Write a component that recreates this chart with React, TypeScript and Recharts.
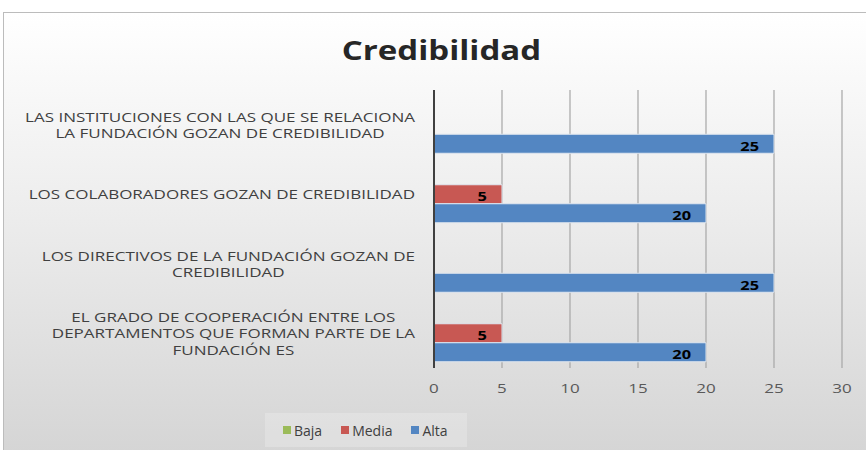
import React from "react";
import {
  Bar,
  BarChart,
  CartesianGrid,
  LabelList,
  XAxis,
  YAxis,
} from "recharts";

const categories = [
  "LAS INSTITUCIONES CON LAS QUE SE RELACIONA LA FUNDACIÓN GOZAN DE CREDIBILIDAD",
  "LOS COLABORADORES GOZAN DE CREDIBILIDAD",
  "LOS DIRECTIVOS DE LA FUNDACIÓN GOZAN DE CREDIBILIDAD",
  "EL GRADO DE COOPERACIÓN ENTRE LOS DEPARTAMENTOS QUE FORMAN PARTE DE LA FUNDACIÓN ES",
];

// how the reference wraps each category label
const categoryLines = [
  ["LAS INSTITUCIONES CON LAS QUE SE RELACIONA", "LA FUNDACIÓN GOZAN DE CREDIBILIDAD"],
  ["LOS COLABORADORES GOZAN DE CREDIBILIDAD"],
  ["LOS DIRECTIVOS DE LA FUNDACIÓN GOZAN DE", "CREDIBILIDAD"],
  ["EL GRADO DE COOPERACIÓN ENTRE LOS", "DEPARTAMENTOS QUE FORMAN PARTE DE LA", "FUNDACIÓN ES"],
];

const baja = [0, 0, 0, 0];
const media = [0, 5, 0, 5];
const alta = [25, 20, 25, 20];

const xTicks = [0, 5, 10, 15, 20, 25, 30];

const SERIES = [
  { key: "Baja", color: "#9BBB59" },
  { key: "Media", color: "#C85853" },
  { key: "Alta", color: "#5386C2" },
];

const data = categories.map((name, i) => ({
  name,
  Baja: baja[i],
  Media: media[i],
  Alta: alta[i],
}));

const FONT = "'Open Sans', sans-serif";
// the reference image is stretched sideways, so the text is widened to match
const STRETCH = 1.26;

let ctx: CanvasRenderingContext2D | null = null;
function textWidth(s: string, size: number, weight = 400) {
  if (!ctx) ctx = document.createElement("canvas").getContext("2d");
  if (!ctx) return s.length * size * 0.6;
  ctx.font = `${weight} ${size}px 'Open Sans'`;
  return ctx.measureText(s).width;
}

function WideText({
  x,
  y,
  text,
  size,
  weight = 400,
  fill,
  anchor = "middle",
}: {
  x: number;
  y: number;
  text: string;
  size: number;
  weight?: number;
  fill: string;
  anchor?: "start" | "middle" | "end";
}) {
  const w = textWidth(text, size, weight) * STRETCH;
  const left = anchor === "start" ? x : anchor === "end" ? x - w : x - w / 2;
  return (
    <text
      x={left}
      y={y}
      textLength={w}
      lengthAdjust="spacingAndGlyphs"
      fontSize={size}
      fontWeight={weight}
      fontFamily={FONT}
      fill={fill}
      dominantBaseline="central"
    >
      {text}
    </text>
  );
}

function CategoryTick(props: any) {
  const { y, payload } = props;
  const idx = categories.indexOf(payload.value);
  const lines = categoryLines[idx] ?? [payload.value];
  const right = 415;
  const size = 13.5;
  const maxW = Math.max(...lines.map((l) => textWidth(l, size))) * STRETCH;
  const cx = right - maxW / 2;
  const lh = 16.5;
  const startY = y - ((lines.length - 1) * lh) / 2;
  return (
    <g>
      {lines.map((l, i) => (
        <WideText key={i} x={cx} y={startY + i * lh} text={l} size={size} fill="#404040" />
      ))}
    </g>
  );
}

function NumberTick(props: any) {
  const { x, y, payload } = props;
  return <WideText x={x} y={y + 6} text={String(payload.value)} size={13.5} fill="#595959" />;
}

function ValueLabel(props: any) {
  const { x, y, width, height, value } = props;
  if (!value) return null;
  return (
    <WideText
      x={x + width - 15}
      y={y + height / 2 + 2}
      text={String(value)}
      size={13}
      weight={700}
      fill="#000"
      anchor="end"
    />
  );
}

export default function App() {
  return (
    <div
      style={{
        position: "absolute",
        left: 0,
        top: 0,
        width: 866,
        height: 450,
        overflow: "hidden",
        background: "#fff",
        fontFamily: FONT,
      }}
    >
      <div
        style={{
          position: "absolute",
          left: 3,
          top: 12,
          width: 880,
          height: 460,
          border: "1px solid #bcbcbc",
          background: "linear-gradient(180deg, #ffffff 0%, #ececec 45%, #d3d3d3 100%)",
        }}
      />
      <div
        style={{
          position: "absolute",
          left: 0,
          top: 30,
          width: 882,
          textAlign: "center",
          fontSize: 26,
          fontWeight: 700,
          color: "#262626",
          lineHeight: "40px",
        }}
      >
        <span style={{ display: "inline-block", transform: "scaleX(1.27)" }}>
          Credibilidad
        </span>
      </div>
      <BarChart
        width={866}
        height={450}
        data={data}
        layout="vertical"
        margin={{ top: 90, right: 24, bottom: 52, left: 0 }}
        barCategoryGap="9%"
        barGap={0}
        style={{ position: "absolute", left: 0, top: 0 }}
      >
        <CartesianGrid horizontal={false} stroke="#a6a6a6" strokeWidth={1.2} />
        <XAxis
          type="number"
          domain={[0, 30]}
          ticks={xTicks}
          axisLine={false}
          tickLine={false}
          tickMargin={8}
          height={30}
          tick={<NumberTick />}
        />
        <YAxis
          type="category"
          dataKey="name"
          width={434}
          axisLine={{ stroke: "#404040", strokeWidth: 2 }}
          tickLine={false}
          tick={<CategoryTick />}
          interval={0}
        />
        {SERIES.map((s) => (
          <Bar
            key={s.key}
            dataKey={s.key}
            fill={s.color}
            stroke="#dfe6ef"
            strokeWidth={1}
            isAnimationActive={false}
          >
            {s.key !== "Baja" && <LabelList dataKey={s.key} content={<ValueLabel />} />}
          </Bar>
        ))}
      </BarChart>
      <div
        style={{
          position: "absolute",
          left: 265,
          top: 413,
          width: 202,
          height: 34,
          background: "rgba(255,255,255,0.22)",
          display: "flex",
          alignItems: "center",
          paddingLeft: 18,
          boxSizing: "border-box",
          fontSize: 14,
          color: "#404040",
        }}
      >
        {SERIES.map((s) => (
          <span
            key={s.key}
            style={{ display: "flex", alignItems: "center", marginRight: 19 }}
          >
            <span
              style={{
                width: 8,
                height: 8,
                background: s.color,
                display: "inline-block",
                marginRight: 3,
              }}
            />
            {s.key}
          </span>
        ))}
      </div>
    </div>
  );
}
